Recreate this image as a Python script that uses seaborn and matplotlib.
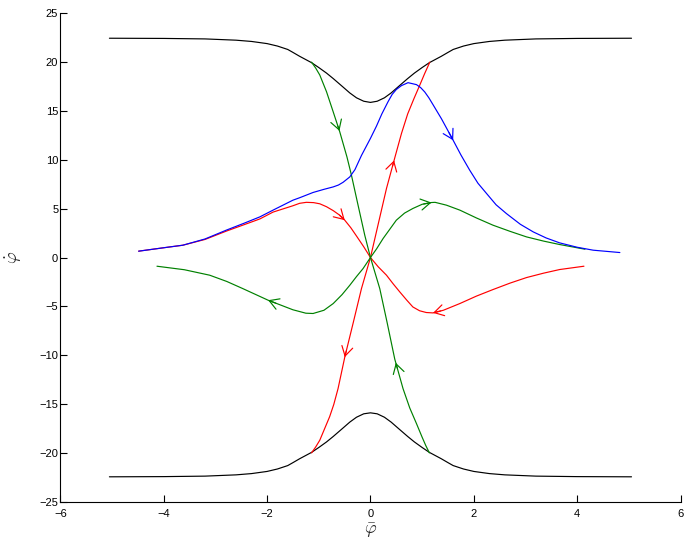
import numpy as np
import matplotlib
matplotlib.use("Agg")
import matplotlib.pyplot as plt
import seaborn as sns

# ---------------- data ----------------
black_top_x = [-5.05, -4.0, -3.2, -2.6, -2.3, -2.0, -1.8, -1.6, -1.5, -1.37, -1.14, -1.0, -0.85,
               -0.72, -0.53, -0.4, -0.27, -0.13, 0.0, 0.13, 0.27, 0.4, 0.53, 0.72, 0.85, 1.0,
               1.14, 1.37, 1.5, 1.6, 1.8, 2.0, 2.3, 2.6, 3.2, 4.0, 5.05]
black_top_y = [22.45, 22.43, 22.38, 22.25, 22.12, 21.9, 21.65, 21.3, 21.0, 20.6, 19.95, 19.45, 18.88,
               18.32, 17.45, 16.85, 16.35, 16.0, 15.88, 16.0, 16.35, 16.85, 17.45, 18.32, 18.88, 19.45,
               19.95, 20.6, 21.0, 21.3, 21.65, 21.9, 22.12, 22.25, 22.38, 22.43, 22.45]
black_bot_x = [-5.05, -4.0, -3.2, -2.6, -2.3, -2.0, -1.8, -1.6, -1.5, -1.37, -1.14, -1.0, -0.85,
               -0.72, -0.53, -0.4, -0.27, -0.13, 0.0, 0.13, 0.27, 0.4, 0.53, 0.72, 0.85, 1.0,
               1.14, 1.37, 1.5, 1.6, 1.8, 2.0, 2.3, 2.6, 3.2, 4.0, 5.05]
black_bot_y = [-22.45, -22.43, -22.38, -22.25, -22.12, -21.9, -21.65, -21.3, -21.0, -20.6, -19.95, -19.45, -18.88,
               -18.32, -17.45, -16.85, -16.35, -16.0, -15.9, -16.0, -16.35, -16.85, -17.45, -18.32, -18.88, -19.45,
               -19.95, -20.6, -21.0, -21.3, -21.65, -21.9, -22.12, -22.25, -22.38, -22.43, -22.45]

blue_x = [-4.485, -4.0, -3.63, -3.2, -2.79, -2.45, -2.14, -1.885, -1.5, -1.37, -1.11, -0.9, -0.72,
          -0.62, -0.53, -0.4, -0.3, -0.174, 0.0, 0.116, 0.22, 0.34, 0.42, 0.5, 0.6, 0.727, 0.89,
          0.97, 1.05, 1.13, 1.21, 1.374, 1.6, 1.75, 1.92, 2.08, 2.245, 2.43, 2.63, 2.9, 3.15, 3.4,
          3.66, 4.0, 4.31, 4.825]
blue_y = [0.65, 1.0, 1.26, 1.9, 2.8, 3.5, 4.16, 4.85, 5.87, 6.12, 6.66, 6.98, 7.23,
          7.42, 7.7, 8.25, 9.0, 10.45, 12.2, 13.45, 14.7, 15.95, 16.7, 17.2, 17.6, 17.9, 17.7,
          17.4, 16.95, 16.35, 15.65, 14.2, 12.0, 10.5, 8.94, 7.6, 6.56, 5.4, 4.5, 3.4, 2.62, 2.0,
          1.5, 1.05, 0.75, 0.51]

red_ul_x = [-4.485, -4.0, -3.63, -3.2, -2.79, -2.45, -2.14, -1.885, -1.5, -1.37, -1.24, -1.1, -0.98,
            -0.85, -0.72, -0.6, -0.497, -0.38, -0.27, -0.13, 0.0]
red_ul_y = [0.65, 1.0, 1.26, 1.85, 2.7, 3.35, 3.95, 4.65, 5.3, 5.55, 5.65, 5.62, 5.5,
            5.2, 4.8, 4.35, 3.82, 3.05, 2.2, 1.1, 0.0]

red_lr_x = [0.0, 0.15, 0.31, 0.44, 0.567, 0.7, 0.82, 0.95, 1.08, 1.21, 1.41, 1.73, 2.05,
            2.37, 2.7, 3.02, 3.35, 3.66, 4.13]
red_lr_y = [0.0, -0.95, -1.81, -2.7, -3.52, -4.35, -5.06, -5.45, -5.63, -5.67, -5.4, -4.71, -3.95,
            -3.28, -2.62, -2.05, -1.6, -1.23, -0.89]

green_ll_x = [-4.13, -3.6, -3.11, -2.78, -2.47, -1.98, -1.5, -1.25, -1.11, -0.9, -0.72, -0.55, -0.4,
              -0.27, -0.143, 0.0]
green_ll_y = [-0.89, -1.25, -1.81, -2.45, -3.18, -4.37, -5.35, -5.7, -5.73, -5.4, -4.71, -3.8, -2.84,
              -1.95, -1.13, 0.0]

green_ur_x = [0.0, 0.12, 0.245, 0.5, 0.66, 0.82, 1.0, 1.18, 1.25, 1.47, 1.73, 2.05, 2.37, 2.7,
              3.02, 3.35, 3.66, 4.15]
green_ur_y = [0.0, 0.9, 1.95, 3.82, 4.55, 5.02, 5.45, 5.63, 5.65, 5.36, 4.85, 4.05, 3.31, 2.68,
              2.11, 1.68, 1.33, 0.85]

green_top_x = [-1.14, -1.06, -0.98, -0.85, -0.72, -0.594, -0.455, -0.368, -0.24, -0.11, 0.0]
green_top_y = [20.0, 19.4, 18.68, 16.97, 14.9, 12.87, 10.3, 8.43, 5.36, 2.28, 0.0]

red_top_x = [0.0, 0.16, 0.31, 0.47, 0.6, 0.72, 0.84, 0.954, 1.05, 1.148]
red_top_y = [0.0, 3.65, 7.07, 10.2, 12.7, 14.7, 16.25, 17.65, 18.85, 20.0]

red_low_x = [-1.14, -1.06, -0.98, -0.79, -0.71, -0.627, -0.497, -0.33, -0.174, 0.0]
red_low_y = [-20.0, -19.4, -18.7, -16.3, -15.05, -13.42, -10.2, -6.6, -3.18, 0.0]

green_low_x = [0.0, 0.18, 0.32, 0.47, 0.63, 0.76, 0.89, 1.0, 1.07, 1.14]
green_low_y = [0.0, -3.18, -6.6, -10.4, -13.42, -15.4, -17.0, -18.4, -19.25, -20.0]

# arrows: (curve, x of arrow tip, x step back to the tail; sign gives direction)
arrow_curve = ["green_top", "red_top", "red_ul", "green_ur", "red_lr", "red_low", "green_low", "green_ll", "blue"]
arrow_tip_x = [-0.6, 0.457, -0.497, 1.18, 1.21, -0.497, 0.49, -1.98, 1.6]
arrow_step = [0.03, 0.03, 0.1, 0.15, -0.15, -0.03, -0.03, -0.15, 0.08]

x_ticks = [-6, -4, -2, 0, 2, 4, 6]
y_ticks = [-25, -20, -15, -10, -5, 0, 5, 10, 15, 20, 25]

# ---------------- styling ----------------
sns.set_style("ticks")
plt.rcParams['font.family'] = ['Liberation Sans', 'DejaVu Sans']
plt.rcParams['mathtext.fontset'] = 'cm'

RED = (1, 0, 0)
GREEN = (0, 0.5, 0)
BLUE = (0, 0, 1)
BLACK = (0, 0, 0)

fig = plt.figure(figsize=(6.9, 5.46), dpi=100)
ax = fig.add_axes([0.0874, 0.0811, 0.899, 0.8945])

curves = {
    "black_top": (black_top_x, black_top_y, BLACK),
    "black_bot": (black_bot_x, black_bot_y, BLACK),
    "red_ul": (red_ul_x, red_ul_y, RED),
    "red_lr": (red_lr_x, red_lr_y, RED),
    "red_top": (red_top_x, red_top_y, RED),
    "red_low": (red_low_x, red_low_y, RED),
    "green_ll": (green_ll_x, green_ll_y, GREEN),
    "green_ur": (green_ur_x, green_ur_y, GREEN),
    "green_top": (green_top_x, green_top_y, GREEN),
    "green_low": (green_low_x, green_low_y, GREEN),
    "blue": (blue_x, blue_y, BLUE),
}

LW = 0.85
for name, (cx, cy, col) in curves.items():
    sns.lineplot(x=np.asarray(cx), y=np.asarray(cy), sort=False, estimator=None,
                 color=col, linewidth=LW, ax=ax)

for name, xt, dx in zip(arrow_curve, arrow_tip_x, arrow_step):
    cx, cy, col = curves[name]
    cx = np.asarray(cx); cy = np.asarray(cy)
    yt = np.interp(xt, cx, cy)
    xs = xt - dx
    ys = np.interp(xs, cx, cy)
    ax.annotate('', xy=(xt, yt), xytext=(xs, ys),
                arrowprops=dict(arrowstyle='->,head_length=0.68,head_width=0.4',
                                color=col, lw=LW, shrinkA=0, shrinkB=0))

ax.set_xlim(-6, 6)
ax.set_ylim(-25, 25)
ax.set_xticks(x_ticks)
ax.set_yticks(y_ticks)
ax.tick_params(direction='in', length=5, width=0.8, labelsize=8, colors='black')
ax.tick_params(axis='x', pad=5.5)
ax.tick_params(axis='y', pad=1.5)
sns.despine(ax=ax)
for s in ['left', 'bottom']:
    ax.spines[s].set_linewidth(0.8)
    ax.spines[s].set_color('black')

ax.set_xlabel(r'$\bar{\varphi}$', fontsize=13)
ax.set_ylabel(r'$\dot{\varphi}$', fontsize=13)
ax.xaxis.set_label_coords(0.5, -0.040)
ax.yaxis.set_label_coords(-0.058, 0.5)

fig.savefig('out.png', dpi=100)
